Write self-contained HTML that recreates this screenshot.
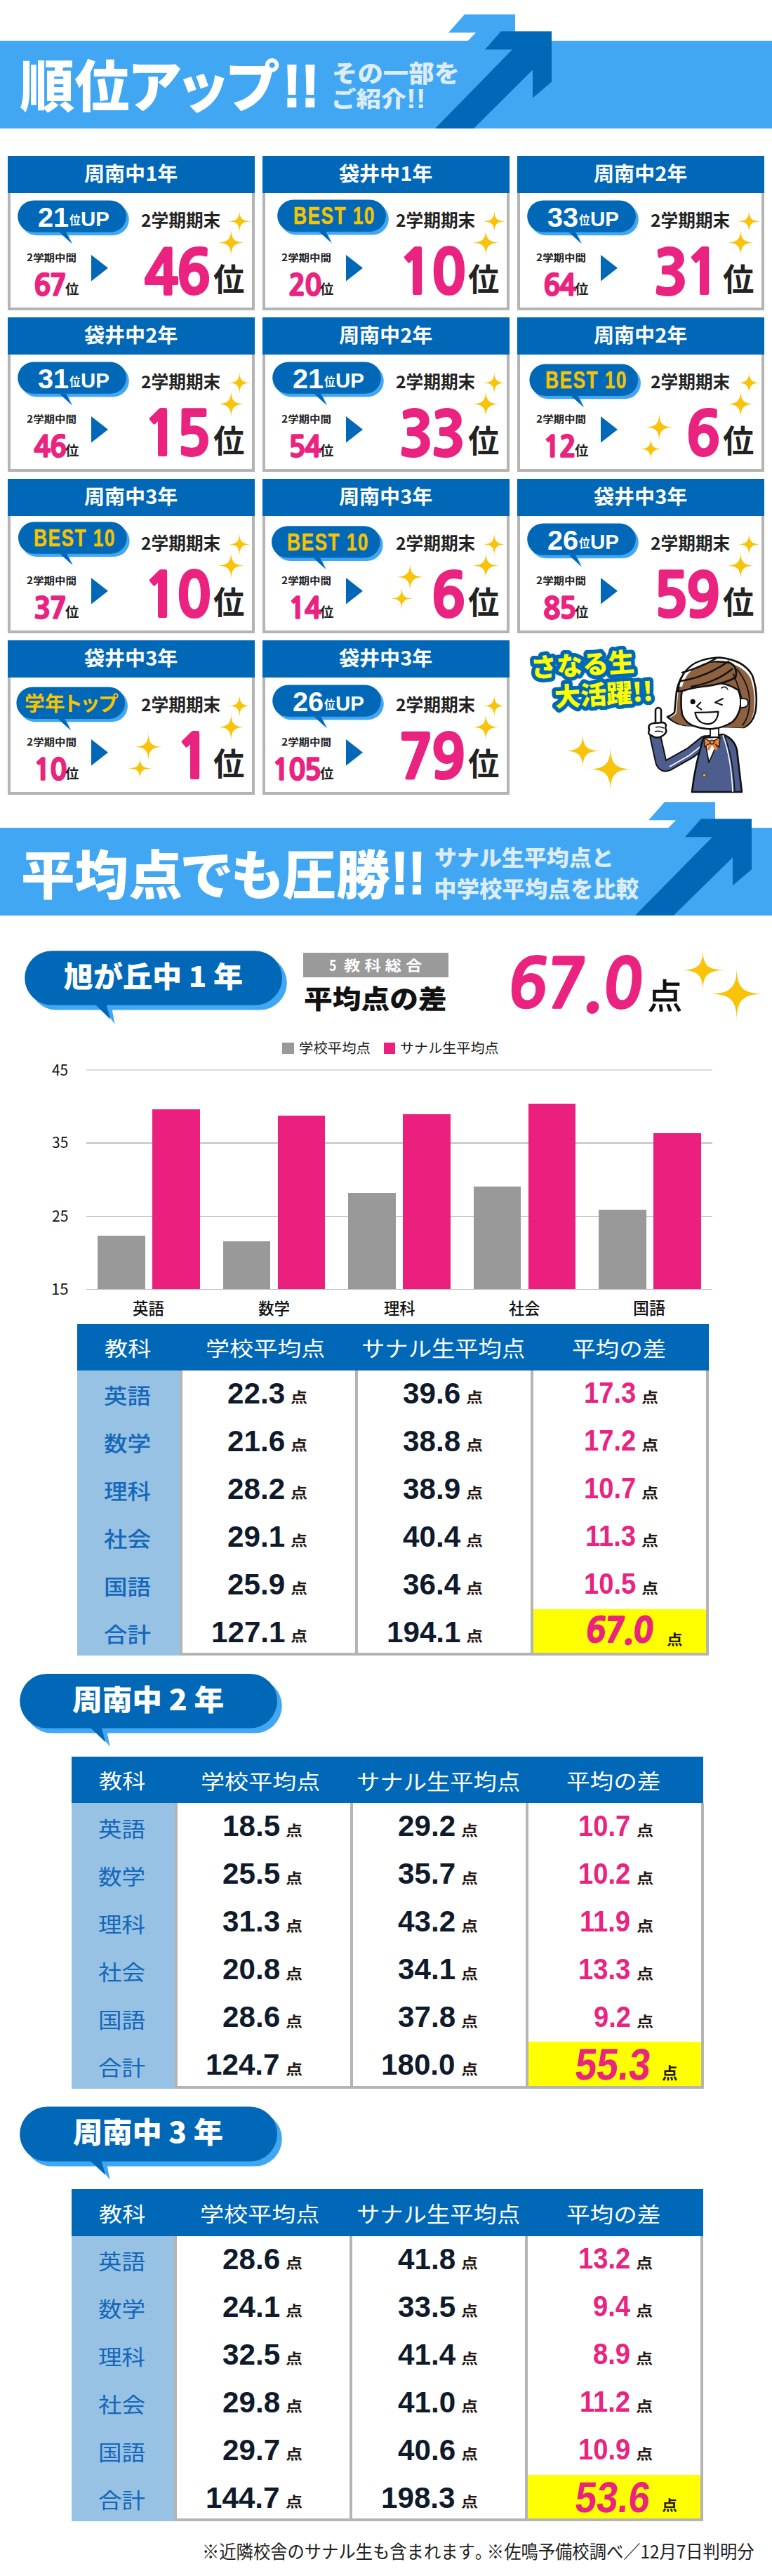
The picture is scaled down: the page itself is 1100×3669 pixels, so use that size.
<!DOCTYPE html>
<html lang="ja"><head><meta charset="utf-8"><title>順位アップ!!</title>
<style>
html,body{margin:0;padding:0;background:#fff;}
#pg{position:relative;width:1100px;height:3669px;overflow:hidden;background:#fff;}
.r{position:absolute;}
.t{position:absolute;white-space:pre;line-height:1;transform-origin:0 0;z-index:2;}
</style></head><body><div id="pg">
<div class="r" style="left:0px;top:58px;width:1100px;height:125px;background:#42a7f2;"></div><div class="t" style="left:28.12px;top:78.04px;font-family:'Noto Sans CJK JP',sans-serif;font-weight:900;font-size:79.29px;color:#fff;font-feature-settings:'palt';transform:scaleX(0.9855);">順位アップ</div><div class="t" style="left:402.89px;top:80.80px;font-family:'Liberation Sans',sans-serif;font-weight:700;font-size:84.35px;color:#fff;transform:scaleX(0.9238);-webkit-text-stroke:2px #fff;">!!</div><div class="t" style="left:472.79px;top:84.94px;font-family:'Noto Sans CJK JP',sans-serif;font-weight:900;font-size:34.53px;color:#dcecf9;transform:scaleX(1.0542);">その一部を</div><div class="t" style="left:471.78px;top:124.07px;font-family:'Noto Sans CJK JP',sans-serif;font-weight:900;font-size:30.51px;color:#dcecf9;transform:scaleX(1.1676);">ご紹介</div><div class="t" style="left:578.75px;top:122.23px;font-family:'Liberation Sans',sans-serif;font-weight:700;font-size:38.55px;color:#dcecf9;transform:scaleX(1.0808);">!!</div><div class="r" style="left:11px;top:222px;width:352px;height:220px;background:#fff;box-sizing:border-box;border:4px solid #b4b4b4;border-top:0"></div><div class="r" style="left:11px;top:222px;width:352px;height:53px;background:#0068b7;"></div><div class="t" style="left:120.42px;top:232.01px;font-family:'Noto Sans CJK JP',sans-serif;font-weight:700;font-size:28.44px;color:#fff;transform:scaleX(1.0216);">周南中1年</div><div class="t" style="left:53.71px;top:289.78px;font-family:'Liberation Sans',sans-serif;font-weight:700;font-size:39.44px;color:#fff;transform:scaleX(1.0047);">21</div><div class="t" style="left:98.74px;top:304.66px;font-family:'Noto Sans CJK JP',sans-serif;font-weight:700;font-size:16.70px;color:#fff;transform:scaleX(0.9382);">位</div><div class="t" style="left:114.83px;top:296.72px;font-family:'Liberation Sans',sans-serif;font-weight:700;font-size:29.86px;color:#fff;transform:scaleX(0.9868);">UP</div><div class="t" style="left:201.11px;top:299.68px;font-family:'Noto Sans CJK JP',sans-serif;font-weight:700;font-size:24.58px;color:#222222;transform:scaleX(1.0043);">2学期期末</div><div class="t" style="left:38.18px;top:360.44px;font-family:'Noto Sans CJK JP',sans-serif;font-weight:700;font-size:13.75px;color:#222222;transform:scaleX(1.1250);">2学期中間</div><div class="t" style="left:47.57px;top:385.86px;font-family:'NanumGothic','Liberation Sans',sans-serif;font-weight:800;font-size:41.77px;color:#e9237f;letter-spacing:-0.045em;transform:scaleX(0.9714);-webkit-text-stroke:1.3px #e9237f;">67</div><div class="t" style="left:93.31px;top:400.93px;font-family:'Noto Sans CJK JP',sans-serif;font-weight:700;font-size:19.68px;color:#222222;transform:scaleX(0.9848);">位</div><svg class="r" style="left:130.2px;top:363.3px;overflow:visible" width="24" height="38"><polygon points="0,0 24,18.8 0,37.6" fill="#0068b7"/></svg><div class="t" style="left:205.26px;top:344.67px;font-family:'NanumGothic','Liberation Sans',sans-serif;font-weight:800;font-size:86.58px;color:#e9237f;letter-spacing:-0.045em;transform:scaleX(0.9492);-webkit-text-stroke:2px #e9237f;">46</div><div class="t" style="left:304.06px;top:372.68px;font-family:'Noto Sans CJK JP',sans-serif;font-weight:700;font-size:45.21px;color:#222222;transform:scaleX(0.9805);">位</div><div class="r" style="left:374px;top:222px;width:352px;height:220px;background:#fff;box-sizing:border-box;border:4px solid #b4b4b4;border-top:0"></div><div class="r" style="left:374px;top:222px;width:352px;height:53px;background:#0068b7;"></div><div class="t" style="left:483.42px;top:232.01px;font-family:'Noto Sans CJK JP',sans-serif;font-weight:700;font-size:28.44px;color:#fff;transform:scaleX(1.0216);">袋井中1年</div><div class="t" style="left:417.55px;top:290.10px;font-family:'Liberation Sans',sans-serif;font-weight:700;font-size:34.65px;color:#f8c300;letter-spacing:0.05em;transform:scaleX(0.7647);-webkit-text-stroke:0.4px #f8c300;">BEST 10</div><div class="t" style="left:564.11px;top:299.68px;font-family:'Noto Sans CJK JP',sans-serif;font-weight:700;font-size:24.58px;color:#222222;transform:scaleX(1.0043);">2学期期末</div><div class="t" style="left:401.18px;top:360.44px;font-family:'Noto Sans CJK JP',sans-serif;font-weight:700;font-size:13.75px;color:#222222;transform:scaleX(1.1250);">2学期中間</div><div class="t" style="left:410.57px;top:385.86px;font-family:'NanumGothic','Liberation Sans',sans-serif;font-weight:800;font-size:41.77px;color:#e9237f;letter-spacing:-0.045em;transform:scaleX(0.9714);-webkit-text-stroke:1.3px #e9237f;">20</div><div class="t" style="left:456.31px;top:400.93px;font-family:'Noto Sans CJK JP',sans-serif;font-weight:700;font-size:19.68px;color:#222222;transform:scaleX(0.9848);">位</div><svg class="r" style="left:493.2px;top:363.3px;overflow:visible" width="24" height="38"><polygon points="0,0 24,18.8 0,37.6" fill="#0068b7"/></svg><div class="t" style="left:568.26px;top:344.67px;font-family:'NanumGothic','Liberation Sans',sans-serif;font-weight:800;font-size:86.58px;color:#e9237f;letter-spacing:-0.045em;transform:scaleX(0.9492);-webkit-text-stroke:2px #e9237f;">10</div><div class="t" style="left:667.06px;top:372.68px;font-family:'Noto Sans CJK JP',sans-serif;font-weight:700;font-size:45.21px;color:#222222;transform:scaleX(0.9805);">位</div><div class="r" style="left:737px;top:222px;width:352px;height:220px;background:#fff;box-sizing:border-box;border:4px solid #b4b4b4;border-top:0"></div><div class="r" style="left:737px;top:222px;width:352px;height:53px;background:#0068b7;"></div><div class="t" style="left:846.42px;top:232.01px;font-family:'Noto Sans CJK JP',sans-serif;font-weight:700;font-size:28.44px;color:#fff;transform:scaleX(1.0216);">周南中2年</div><div class="t" style="left:779.71px;top:289.78px;font-family:'Liberation Sans',sans-serif;font-weight:700;font-size:39.44px;color:#fff;transform:scaleX(1.0047);">33</div><div class="t" style="left:824.74px;top:304.66px;font-family:'Noto Sans CJK JP',sans-serif;font-weight:700;font-size:16.70px;color:#fff;transform:scaleX(0.9382);">位</div><div class="t" style="left:840.83px;top:296.72px;font-family:'Liberation Sans',sans-serif;font-weight:700;font-size:29.86px;color:#fff;transform:scaleX(0.9868);">UP</div><div class="t" style="left:927.11px;top:299.68px;font-family:'Noto Sans CJK JP',sans-serif;font-weight:700;font-size:24.58px;color:#222222;transform:scaleX(1.0043);">2学期期末</div><div class="t" style="left:764.18px;top:360.44px;font-family:'Noto Sans CJK JP',sans-serif;font-weight:700;font-size:13.75px;color:#222222;transform:scaleX(1.1250);">2学期中間</div><div class="t" style="left:773.57px;top:385.86px;font-family:'NanumGothic','Liberation Sans',sans-serif;font-weight:800;font-size:41.77px;color:#e9237f;letter-spacing:-0.045em;transform:scaleX(0.9714);-webkit-text-stroke:1.3px #e9237f;">64</div><div class="t" style="left:819.31px;top:400.93px;font-family:'Noto Sans CJK JP',sans-serif;font-weight:700;font-size:19.68px;color:#222222;transform:scaleX(0.9848);">位</div><svg class="r" style="left:856.2px;top:363.3px;overflow:visible" width="24" height="38"><polygon points="0,0 24,18.8 0,37.6" fill="#0068b7"/></svg><div class="t" style="left:931.26px;top:344.67px;font-family:'NanumGothic','Liberation Sans',sans-serif;font-weight:800;font-size:86.58px;color:#e9237f;letter-spacing:-0.045em;transform:scaleX(0.9492);-webkit-text-stroke:2px #e9237f;">31</div><div class="t" style="left:1030.06px;top:372.68px;font-family:'Noto Sans CJK JP',sans-serif;font-weight:700;font-size:45.21px;color:#222222;transform:scaleX(0.9805);">位</div><div class="r" style="left:11px;top:452px;width:352px;height:220px;background:#fff;box-sizing:border-box;border:4px solid #b4b4b4;border-top:0"></div><div class="r" style="left:11px;top:452px;width:352px;height:53px;background:#0068b7;"></div><div class="t" style="left:120.42px;top:462.01px;font-family:'Noto Sans CJK JP',sans-serif;font-weight:700;font-size:28.44px;color:#fff;transform:scaleX(1.0216);">袋井中2年</div><div class="t" style="left:53.71px;top:519.78px;font-family:'Liberation Sans',sans-serif;font-weight:700;font-size:39.44px;color:#fff;transform:scaleX(1.0047);">31</div><div class="t" style="left:98.74px;top:534.66px;font-family:'Noto Sans CJK JP',sans-serif;font-weight:700;font-size:16.70px;color:#fff;transform:scaleX(0.9382);">位</div><div class="t" style="left:114.83px;top:526.72px;font-family:'Liberation Sans',sans-serif;font-weight:700;font-size:29.86px;color:#fff;transform:scaleX(0.9868);">UP</div><div class="t" style="left:201.11px;top:529.68px;font-family:'Noto Sans CJK JP',sans-serif;font-weight:700;font-size:24.58px;color:#222222;transform:scaleX(1.0043);">2学期期末</div><div class="t" style="left:38.18px;top:590.44px;font-family:'Noto Sans CJK JP',sans-serif;font-weight:700;font-size:13.75px;color:#222222;transform:scaleX(1.1250);">2学期中間</div><div class="t" style="left:47.57px;top:615.86px;font-family:'NanumGothic','Liberation Sans',sans-serif;font-weight:800;font-size:41.77px;color:#e9237f;letter-spacing:-0.045em;transform:scaleX(0.9714);-webkit-text-stroke:1.3px #e9237f;">46</div><div class="t" style="left:93.31px;top:630.93px;font-family:'Noto Sans CJK JP',sans-serif;font-weight:700;font-size:19.68px;color:#222222;transform:scaleX(0.9848);">位</div><svg class="r" style="left:130.2px;top:593.3px;overflow:visible" width="24" height="38"><polygon points="0,0 24,18.8 0,37.6" fill="#0068b7"/></svg><div class="t" style="left:205.26px;top:574.67px;font-family:'NanumGothic','Liberation Sans',sans-serif;font-weight:800;font-size:86.58px;color:#e9237f;letter-spacing:-0.045em;transform:scaleX(0.9492);-webkit-text-stroke:2px #e9237f;">15</div><div class="t" style="left:304.06px;top:602.68px;font-family:'Noto Sans CJK JP',sans-serif;font-weight:700;font-size:45.21px;color:#222222;transform:scaleX(0.9805);">位</div><div class="r" style="left:374px;top:452px;width:352px;height:220px;background:#fff;box-sizing:border-box;border:4px solid #b4b4b4;border-top:0"></div><div class="r" style="left:374px;top:452px;width:352px;height:53px;background:#0068b7;"></div><div class="t" style="left:483.42px;top:462.01px;font-family:'Noto Sans CJK JP',sans-serif;font-weight:700;font-size:28.44px;color:#fff;transform:scaleX(1.0216);">周南中2年</div><div class="t" style="left:416.71px;top:519.78px;font-family:'Liberation Sans',sans-serif;font-weight:700;font-size:39.44px;color:#fff;transform:scaleX(1.0047);">21</div><div class="t" style="left:461.74px;top:534.66px;font-family:'Noto Sans CJK JP',sans-serif;font-weight:700;font-size:16.70px;color:#fff;transform:scaleX(0.9382);">位</div><div class="t" style="left:477.83px;top:526.72px;font-family:'Liberation Sans',sans-serif;font-weight:700;font-size:29.86px;color:#fff;transform:scaleX(0.9868);">UP</div><div class="t" style="left:564.11px;top:529.68px;font-family:'Noto Sans CJK JP',sans-serif;font-weight:700;font-size:24.58px;color:#222222;transform:scaleX(1.0043);">2学期期末</div><div class="t" style="left:401.18px;top:590.44px;font-family:'Noto Sans CJK JP',sans-serif;font-weight:700;font-size:13.75px;color:#222222;transform:scaleX(1.1250);">2学期中間</div><div class="t" style="left:410.57px;top:615.86px;font-family:'NanumGothic','Liberation Sans',sans-serif;font-weight:800;font-size:41.77px;color:#e9237f;letter-spacing:-0.045em;transform:scaleX(0.9714);-webkit-text-stroke:1.3px #e9237f;">54</div><div class="t" style="left:456.31px;top:630.93px;font-family:'Noto Sans CJK JP',sans-serif;font-weight:700;font-size:19.68px;color:#222222;transform:scaleX(0.9848);">位</div><svg class="r" style="left:493.2px;top:593.3px;overflow:visible" width="24" height="38"><polygon points="0,0 24,18.8 0,37.6" fill="#0068b7"/></svg><div class="t" style="left:568.26px;top:574.67px;font-family:'NanumGothic','Liberation Sans',sans-serif;font-weight:800;font-size:86.58px;color:#e9237f;letter-spacing:-0.045em;transform:scaleX(0.9492);-webkit-text-stroke:2px #e9237f;">33</div><div class="t" style="left:667.06px;top:602.68px;font-family:'Noto Sans CJK JP',sans-serif;font-weight:700;font-size:45.21px;color:#222222;transform:scaleX(0.9805);">位</div><div class="r" style="left:737px;top:452px;width:352px;height:220px;background:#fff;box-sizing:border-box;border:4px solid #b4b4b4;border-top:0"></div><div class="r" style="left:737px;top:452px;width:352px;height:53px;background:#0068b7;"></div><div class="t" style="left:846.42px;top:462.01px;font-family:'Noto Sans CJK JP',sans-serif;font-weight:700;font-size:28.44px;color:#fff;transform:scaleX(1.0216);">周南中2年</div><div class="t" style="left:776.75px;top:524.00px;font-family:'Liberation Sans',sans-serif;font-weight:700;font-size:34.65px;color:#f8c300;letter-spacing:0.05em;transform:scaleX(0.7647);-webkit-text-stroke:0.4px #f8c300;">BEST 10</div><div class="t" style="left:927.11px;top:529.68px;font-family:'Noto Sans CJK JP',sans-serif;font-weight:700;font-size:24.58px;color:#222222;transform:scaleX(1.0043);">2学期期末</div><div class="t" style="left:764.18px;top:590.44px;font-family:'Noto Sans CJK JP',sans-serif;font-weight:700;font-size:13.75px;color:#222222;transform:scaleX(1.1250);">2学期中間</div><div class="t" style="left:773.57px;top:615.86px;font-family:'NanumGothic','Liberation Sans',sans-serif;font-weight:800;font-size:41.77px;color:#e9237f;letter-spacing:-0.045em;transform:scaleX(0.9714);-webkit-text-stroke:1.3px #e9237f;">12</div><div class="t" style="left:819.31px;top:630.93px;font-family:'Noto Sans CJK JP',sans-serif;font-weight:700;font-size:19.68px;color:#222222;transform:scaleX(0.9848);">位</div><svg class="r" style="left:856.2px;top:593.3px;overflow:visible" width="24" height="38"><polygon points="0,0 24,18.8 0,37.6" fill="#0068b7"/></svg><div class="t" style="left:977.36px;top:574.67px;font-family:'NanumGothic','Liberation Sans',sans-serif;font-weight:800;font-size:86.58px;color:#e9237f;letter-spacing:-0.045em;transform:scaleX(0.9492);-webkit-text-stroke:2px #e9237f;">6</div><div class="t" style="left:1030.06px;top:602.68px;font-family:'Noto Sans CJK JP',sans-serif;font-weight:700;font-size:45.21px;color:#222222;transform:scaleX(0.9805);">位</div><div class="r" style="left:11px;top:682px;width:352px;height:220px;background:#fff;box-sizing:border-box;border:4px solid #b4b4b4;border-top:0"></div><div class="r" style="left:11px;top:682px;width:352px;height:53px;background:#0068b7;"></div><div class="t" style="left:120.42px;top:692.01px;font-family:'Noto Sans CJK JP',sans-serif;font-weight:700;font-size:28.44px;color:#fff;transform:scaleX(1.0216);">周南中3年</div><div class="t" style="left:48.35px;top:748.80px;font-family:'Liberation Sans',sans-serif;font-weight:700;font-size:34.65px;color:#f8c300;letter-spacing:0.05em;transform:scaleX(0.7647);-webkit-text-stroke:0.4px #f8c300;">BEST 10</div><div class="t" style="left:201.11px;top:759.68px;font-family:'Noto Sans CJK JP',sans-serif;font-weight:700;font-size:24.58px;color:#222222;transform:scaleX(1.0043);">2学期期末</div><div class="t" style="left:38.18px;top:820.44px;font-family:'Noto Sans CJK JP',sans-serif;font-weight:700;font-size:13.75px;color:#222222;transform:scaleX(1.1250);">2学期中間</div><div class="t" style="left:47.57px;top:845.86px;font-family:'NanumGothic','Liberation Sans',sans-serif;font-weight:800;font-size:41.77px;color:#e9237f;letter-spacing:-0.045em;transform:scaleX(0.9714);-webkit-text-stroke:1.3px #e9237f;">37</div><div class="t" style="left:93.31px;top:860.93px;font-family:'Noto Sans CJK JP',sans-serif;font-weight:700;font-size:19.68px;color:#222222;transform:scaleX(0.9848);">位</div><svg class="r" style="left:130.2px;top:823.3px;overflow:visible" width="24" height="38"><polygon points="0,0 24,18.8 0,37.6" fill="#0068b7"/></svg><div class="t" style="left:205.26px;top:804.67px;font-family:'NanumGothic','Liberation Sans',sans-serif;font-weight:800;font-size:86.58px;color:#e9237f;letter-spacing:-0.045em;transform:scaleX(0.9492);-webkit-text-stroke:2px #e9237f;">10</div><div class="t" style="left:304.06px;top:832.68px;font-family:'Noto Sans CJK JP',sans-serif;font-weight:700;font-size:45.21px;color:#222222;transform:scaleX(0.9805);">位</div><div class="r" style="left:374px;top:682px;width:352px;height:220px;background:#fff;box-sizing:border-box;border:4px solid #b4b4b4;border-top:0"></div><div class="r" style="left:374px;top:682px;width:352px;height:53px;background:#0068b7;"></div><div class="t" style="left:483.42px;top:692.01px;font-family:'Noto Sans CJK JP',sans-serif;font-weight:700;font-size:28.44px;color:#fff;transform:scaleX(1.0216);">周南中3年</div><div class="t" style="left:409.35px;top:754.70px;font-family:'Liberation Sans',sans-serif;font-weight:700;font-size:34.65px;color:#f8c300;letter-spacing:0.05em;transform:scaleX(0.7647);-webkit-text-stroke:0.4px #f8c300;">BEST 10</div><div class="t" style="left:564.11px;top:759.68px;font-family:'Noto Sans CJK JP',sans-serif;font-weight:700;font-size:24.58px;color:#222222;transform:scaleX(1.0043);">2学期期末</div><div class="t" style="left:401.18px;top:820.44px;font-family:'Noto Sans CJK JP',sans-serif;font-weight:700;font-size:13.75px;color:#222222;transform:scaleX(1.1250);">2学期中間</div><div class="t" style="left:410.57px;top:845.86px;font-family:'NanumGothic','Liberation Sans',sans-serif;font-weight:800;font-size:41.77px;color:#e9237f;letter-spacing:-0.045em;transform:scaleX(0.9714);-webkit-text-stroke:1.3px #e9237f;">14</div><div class="t" style="left:456.31px;top:860.93px;font-family:'Noto Sans CJK JP',sans-serif;font-weight:700;font-size:19.68px;color:#222222;transform:scaleX(0.9848);">位</div><svg class="r" style="left:493.2px;top:823.3px;overflow:visible" width="24" height="38"><polygon points="0,0 24,18.8 0,37.6" fill="#0068b7"/></svg><div class="t" style="left:614.36px;top:804.67px;font-family:'NanumGothic','Liberation Sans',sans-serif;font-weight:800;font-size:86.58px;color:#e9237f;letter-spacing:-0.045em;transform:scaleX(0.9492);-webkit-text-stroke:2px #e9237f;">6</div><div class="t" style="left:667.06px;top:832.68px;font-family:'Noto Sans CJK JP',sans-serif;font-weight:700;font-size:45.21px;color:#222222;transform:scaleX(0.9805);">位</div><div class="r" style="left:737px;top:682px;width:352px;height:220px;background:#fff;box-sizing:border-box;border:4px solid #b4b4b4;border-top:0"></div><div class="r" style="left:737px;top:682px;width:352px;height:53px;background:#0068b7;"></div><div class="t" style="left:846.42px;top:692.01px;font-family:'Noto Sans CJK JP',sans-serif;font-weight:700;font-size:28.44px;color:#fff;transform:scaleX(1.0216);">袋井中3年</div><div class="t" style="left:779.71px;top:749.78px;font-family:'Liberation Sans',sans-serif;font-weight:700;font-size:39.44px;color:#fff;transform:scaleX(1.0047);">26</div><div class="t" style="left:824.74px;top:764.66px;font-family:'Noto Sans CJK JP',sans-serif;font-weight:700;font-size:16.70px;color:#fff;transform:scaleX(0.9382);">位</div><div class="t" style="left:840.83px;top:756.72px;font-family:'Liberation Sans',sans-serif;font-weight:700;font-size:29.86px;color:#fff;transform:scaleX(0.9868);">UP</div><div class="t" style="left:927.11px;top:759.68px;font-family:'Noto Sans CJK JP',sans-serif;font-weight:700;font-size:24.58px;color:#222222;transform:scaleX(1.0043);">2学期期末</div><div class="t" style="left:764.18px;top:820.44px;font-family:'Noto Sans CJK JP',sans-serif;font-weight:700;font-size:13.75px;color:#222222;transform:scaleX(1.1250);">2学期中間</div><div class="t" style="left:773.57px;top:845.86px;font-family:'NanumGothic','Liberation Sans',sans-serif;font-weight:800;font-size:41.77px;color:#e9237f;letter-spacing:-0.045em;transform:scaleX(0.9714);-webkit-text-stroke:1.3px #e9237f;">85</div><div class="t" style="left:819.31px;top:860.93px;font-family:'Noto Sans CJK JP',sans-serif;font-weight:700;font-size:19.68px;color:#222222;transform:scaleX(0.9848);">位</div><svg class="r" style="left:856.2px;top:823.3px;overflow:visible" width="24" height="38"><polygon points="0,0 24,18.8 0,37.6" fill="#0068b7"/></svg><div class="t" style="left:931.26px;top:804.67px;font-family:'NanumGothic','Liberation Sans',sans-serif;font-weight:800;font-size:86.58px;color:#e9237f;letter-spacing:-0.045em;transform:scaleX(0.9492);-webkit-text-stroke:2px #e9237f;">59</div><div class="t" style="left:1030.06px;top:832.68px;font-family:'Noto Sans CJK JP',sans-serif;font-weight:700;font-size:45.21px;color:#222222;transform:scaleX(0.9805);">位</div><div class="r" style="left:11px;top:912px;width:352px;height:220px;background:#fff;box-sizing:border-box;border:4px solid #b4b4b4;border-top:0"></div><div class="r" style="left:11px;top:912px;width:352px;height:53px;background:#0068b7;"></div><div class="t" style="left:120.42px;top:922.01px;font-family:'Noto Sans CJK JP',sans-serif;font-weight:700;font-size:28.44px;color:#fff;transform:scaleX(1.0216);">袋井中3年</div><div class="t" style="left:34.66px;top:986.26px;font-family:'Noto Sans CJK JP',sans-serif;font-weight:700;font-size:29.17px;color:#f8c300;font-feature-settings:'palt';transform:scaleX(0.9852);">学年トップ</div><div class="t" style="left:201.11px;top:989.68px;font-family:'Noto Sans CJK JP',sans-serif;font-weight:700;font-size:24.58px;color:#222222;transform:scaleX(1.0043);">2学期期末</div><div class="t" style="left:38.18px;top:1050.44px;font-family:'Noto Sans CJK JP',sans-serif;font-weight:700;font-size:13.75px;color:#222222;transform:scaleX(1.1250);">2学期中間</div><div class="t" style="left:47.57px;top:1075.86px;font-family:'NanumGothic','Liberation Sans',sans-serif;font-weight:800;font-size:41.77px;color:#e9237f;letter-spacing:-0.045em;transform:scaleX(0.9714);-webkit-text-stroke:1.3px #e9237f;">10</div><div class="t" style="left:93.31px;top:1090.93px;font-family:'Noto Sans CJK JP',sans-serif;font-weight:700;font-size:19.68px;color:#222222;transform:scaleX(0.9848);">位</div><svg class="r" style="left:130.2px;top:1053.3px;overflow:visible" width="24" height="38"><polygon points="0,0 24,18.8 0,37.6" fill="#0068b7"/></svg><div class="t" style="left:251.36px;top:1034.67px;font-family:'NanumGothic','Liberation Sans',sans-serif;font-weight:800;font-size:86.58px;color:#e9237f;letter-spacing:-0.045em;transform:scaleX(0.9492);-webkit-text-stroke:2px #e9237f;">1</div><div class="t" style="left:304.06px;top:1062.68px;font-family:'Noto Sans CJK JP',sans-serif;font-weight:700;font-size:45.21px;color:#222222;transform:scaleX(0.9805);">位</div><div class="r" style="left:374px;top:912px;width:352px;height:220px;background:#fff;box-sizing:border-box;border:4px solid #b4b4b4;border-top:0"></div><div class="r" style="left:374px;top:912px;width:352px;height:53px;background:#0068b7;"></div><div class="t" style="left:483.42px;top:922.01px;font-family:'Noto Sans CJK JP',sans-serif;font-weight:700;font-size:28.44px;color:#fff;transform:scaleX(1.0216);">袋井中3年</div><div class="t" style="left:416.71px;top:979.78px;font-family:'Liberation Sans',sans-serif;font-weight:700;font-size:39.44px;color:#fff;transform:scaleX(1.0047);">26</div><div class="t" style="left:461.74px;top:994.66px;font-family:'Noto Sans CJK JP',sans-serif;font-weight:700;font-size:16.70px;color:#fff;transform:scaleX(0.9382);">位</div><div class="t" style="left:477.83px;top:986.72px;font-family:'Liberation Sans',sans-serif;font-weight:700;font-size:29.86px;color:#fff;transform:scaleX(0.9868);">UP</div><div class="t" style="left:564.11px;top:989.68px;font-family:'Noto Sans CJK JP',sans-serif;font-weight:700;font-size:24.58px;color:#222222;transform:scaleX(1.0043);">2学期期末</div><div class="t" style="left:401.18px;top:1050.44px;font-family:'Noto Sans CJK JP',sans-serif;font-weight:700;font-size:13.75px;color:#222222;transform:scaleX(1.1250);">2学期中間</div><div class="t" style="left:387.80px;top:1075.86px;font-family:'NanumGothic','Liberation Sans',sans-serif;font-weight:800;font-size:41.77px;color:#e9237f;letter-spacing:-0.045em;transform:scaleX(0.9714);-webkit-text-stroke:1.3px #e9237f;">105</div><div class="t" style="left:456.31px;top:1090.93px;font-family:'Noto Sans CJK JP',sans-serif;font-weight:700;font-size:19.68px;color:#222222;transform:scaleX(0.9848);">位</div><svg class="r" style="left:493.2px;top:1053.3px;overflow:visible" width="24" height="38"><polygon points="0,0 24,18.8 0,37.6" fill="#0068b7"/></svg><div class="t" style="left:568.26px;top:1034.67px;font-family:'NanumGothic','Liberation Sans',sans-serif;font-weight:800;font-size:86.58px;color:#e9237f;letter-spacing:-0.045em;transform:scaleX(0.9492);-webkit-text-stroke:2px #e9237f;">79</div><div class="t" style="left:667.06px;top:1062.68px;font-family:'Noto Sans CJK JP',sans-serif;font-weight:700;font-size:45.21px;color:#222222;transform:scaleX(0.9805);">位</div><div class="r" style="left:0px;top:1179px;width:1100px;height:124.7px;background:#42a7f2;"></div><div class="t" style="left:29.64px;top:1203.64px;font-family:'Noto Sans CJK JP',sans-serif;font-weight:900;font-size:75.10px;color:#fff;font-feature-settings:'palt';transform:scaleX(1.0199);">平均点でも圧勝</div><div class="t" style="left:557.21px;top:1201.02px;font-family:'Liberation Sans',sans-serif;font-weight:700;font-size:85.51px;color:#fff;transform:scaleX(0.8698);-webkit-text-stroke:2px #fff;">!!</div><div class="t" style="left:618.90px;top:1204.98px;font-family:'Noto Sans CJK JP',sans-serif;font-weight:900;font-size:30.31px;color:#dcecf9;transform:scaleX(1.0547);">サナル生平均点と</div><div class="t" style="left:617.90px;top:1247.66px;font-family:'Noto Sans CJK JP',sans-serif;font-weight:900;font-size:31.98px;color:#dcecf9;transform:scaleX(1.0160);">中学校平均点を比較</div><div class="t" style="left:91.38px;top:1368.56px;font-family:'Noto Sans CJK JP',sans-serif;font-weight:900;font-size:40.81px;color:#fff;transform:scaleX(1.0299);">旭が丘中 1 年</div><div class="r" style="left:432.1px;top:1357.1px;width:207.2px;height:35.1px;background:#9a9a9a;"></div><div class="t" style="left:469.46px;top:1363.13px;font-family:'Noto Sans CJK JP',sans-serif;font-weight:700;font-size:21.78px;color:#fff;transform:scaleX(0.8192);">5</div><div class="t" style="left:490.04px;top:1364.25px;font-family:'Noto Sans CJK JP',sans-serif;font-weight:700;font-size:20.73px;color:#fff;letter-spacing:0.27em;transform:scaleX(1.1185);">教科総合</div><div class="t" style="left:433.17px;top:1403.39px;font-family:'Noto Sans CJK JP',sans-serif;font-weight:900;font-size:37.29px;color:#111;transform:scaleX(1.0934);">平均点の差</div><div class="t" style="left:724.32px;top:1354.24px;font-family:'NanumGothic','Liberation Sans',sans-serif;font-weight:800;font-size:96.55px;color:#e9237f;letter-spacing:-0.03em;transform-origin:0 48.76px;transform:scaleX(0.9802) skewX(-6deg);-webkit-text-stroke:0.8px #e9237f;">67.0</div><div class="t" style="left:921.77px;top:1390.83px;font-family:'Noto Sans CJK JP',sans-serif;font-weight:500;font-size:49.57px;color:#111;transform:scaleX(1.0239);">点</div><div class="r" style="left:122.5px;top:1522.9px;width:892px;height:2px;background:#dcdcdc;"></div><div class="r" style="left:122.5px;top:1627.4px;width:892px;height:1.2px;background:#c0c0c0;"></div><div class="r" style="left:122.5px;top:1731.6px;width:892px;height:1.2px;background:#c0c0c0;"></div><div class="r" style="left:122.5px;top:1835.7px;width:892px;height:1.2px;background:#c0c0c0;"></div><div class="t" style="left:74.48px;top:1511.77px;font-family:'Noto Sans CJK JP',sans-serif;font-weight:400;font-size:21.53px;color:#111;transform:scaleX(0.9648);">45</div><div class="t" style="left:74.27px;top:1616.45px;font-family:'Noto Sans CJK JP',sans-serif;font-weight:400;font-size:20.95px;color:#111;transform:scaleX(1.0012);">35</div><div class="t" style="left:74.05px;top:1720.58px;font-family:'Noto Sans CJK JP',sans-serif;font-weight:400;font-size:20.95px;color:#111;transform:scaleX(1.0110);">25</div><div class="t" style="left:72.90px;top:1824.16px;font-family:'Noto Sans CJK JP',sans-serif;font-weight:400;font-size:21.53px;color:#111;transform:scaleX(1.0344);">15</div><div class="r" style="left:139.3px;top:1760.3px;width:67.5px;height:76.0px;background:#999999;"></div><div class="r" style="left:217.0px;top:1580.1px;width:67.6px;height:256.2px;background:#ea1f7e;"></div><div class="t" style="left:189.30px;top:1852.29px;font-family:'Noto Sans CJK JP',sans-serif;font-weight:500;font-size:22.66px;color:#111;transform:scaleX(0.9901);">英語</div><div class="r" style="left:317.8px;top:1767.6px;width:67.5px;height:68.7px;background:#999999;"></div><div class="r" style="left:395.5px;top:1588.5px;width:67.6px;height:247.8px;background:#ea1f7e;"></div><div class="t" style="left:368.02px;top:1852.29px;font-family:'Noto Sans CJK JP',sans-serif;font-weight:500;font-size:22.66px;color:#111;transform:scaleX(0.9953);">数学</div><div class="r" style="left:496.3px;top:1698.8px;width:67.5px;height:137.5px;background:#999999;"></div><div class="r" style="left:574.0px;top:1587.4px;width:67.6px;height:248.9px;background:#ea1f7e;"></div><div class="t" style="left:546.53px;top:1852.29px;font-family:'Noto Sans CJK JP',sans-serif;font-weight:500;font-size:22.66px;color:#111;transform:scaleX(0.9850);">理科</div><div class="r" style="left:674.8px;top:1689.5px;width:67.5px;height:146.8px;background:#999999;"></div><div class="r" style="left:752.5px;top:1571.8px;width:67.6px;height:264.5px;background:#ea1f7e;"></div><div class="t" style="left:725.26px;top:1852.29px;font-family:'Noto Sans CJK JP',sans-serif;font-weight:500;font-size:22.66px;color:#111;transform:scaleX(0.9799);">社会</div><div class="r" style="left:853.3px;top:1722.8px;width:67.5px;height:113.5px;background:#999999;"></div><div class="r" style="left:931.0px;top:1613.5px;width:67.6px;height:222.8px;background:#ea1f7e;"></div><div class="t" style="left:902.37px;top:1851.26px;font-family:'Noto Sans CJK JP',sans-serif;font-weight:500;font-size:23.67px;color:#111;transform:scaleX(0.9680);">国語</div><div class="r" style="left:402.3px;top:1485px;width:16.6px;height:15.8px;background:#999999;"></div><div class="t" style="left:426.08px;top:1481.62px;font-family:'Noto Sans CJK JP',sans-serif;font-weight:400;font-size:19.79px;color:#222;transform:scaleX(1.0304);">学校平均点</div><div class="r" style="left:546.5px;top:1484.8px;width:16.8px;height:15.8px;background:#ea1f7e;"></div><div class="t" style="left:570.09px;top:1482.32px;font-family:'Noto Sans CJK JP',sans-serif;font-weight:400;font-size:19.79px;color:#222;transform:scaleX(1.0152);">サナル生平均点</div><div class="r" style="left:109.6px;top:1885.5px;width:900px;height:66.2px;background:#0068b7;"></div><div class="t" style="left:148.74px;top:1904.68px;font-family:'Noto Sans CJK JP',sans-serif;font-weight:400;font-size:29.04px;color:#fff;transform:scaleX(1.1412);">教科</div><div class="t" style="left:292.95px;top:1905.27px;font-family:'Noto Sans CJK JP',sans-serif;font-weight:400;font-size:29.15px;color:#fff;transform:scaleX(1.1695);">学校平均点</div><div class="t" style="left:515.17px;top:1903.88px;font-family:'Noto Sans CJK JP',sans-serif;font-weight:400;font-size:30.21px;color:#fff;transform:scaleX(1.1031);">サナル生平均点</div><div class="t" style="left:814.52px;top:1904.62px;font-family:'Noto Sans CJK JP',sans-serif;font-weight:400;font-size:29.79px;color:#fff;transform:scaleX(1.1277);">平均の差</div><div class="r" style="left:109.6px;top:1951.7px;width:146.4px;height:406.5px;background:#98c2e4;"></div><div class="r" style="left:256.0px;top:1951.7px;width:250px;height:406.5px;background:#fff;box-sizing:border-box;border-left:4px solid #b4b4b4;border-bottom:4px solid #b4b4b4;"></div><div class="r" style="left:506.0px;top:1951.7px;width:250px;height:406.5px;background:#fff;box-sizing:border-box;border-left:4px solid #b4b4b4;border-bottom:4px solid #b4b4b4;"></div><div class="r" style="left:756.0px;top:1951.7px;width:254px;height:406.5px;background:#fff;box-sizing:border-box;border-left:4px solid #b4b4b4;border-bottom:4px solid #b4b4b4;border-right:4px solid #b4b4b4"></div><div class="r" style="left:760.0px;top:2291.7px;width:246px;height:62.5px;background:#ffff00;"></div><div class="t" style="left:147.86px;top:1972.01px;font-family:'Noto Sans CJK JP',sans-serif;font-weight:500;font-size:29.89px;color:#1467b9;transform:scaleX(1.1232);">英語</div><div class="t" style="left:324.13px;top:1963.68px;font-family:'Liberation Sans',sans-serif;font-weight:700;font-size:42.11px;color:#0f1a2b;transform:scaleX(1.0016);">22.3</div><div class="t" style="left:414.48px;top:1979.47px;font-family:'Noto Sans CJK JP',sans-serif;font-weight:700;font-size:20.42px;color:#231815;transform:scaleX(1.1826);">点</div><div class="t" style="left:574.13px;top:1963.68px;font-family:'Liberation Sans',sans-serif;font-weight:700;font-size:42.11px;color:#0f1a2b;transform:scaleX(1.0016);">39.6</div><div class="t" style="left:664.48px;top:1979.47px;font-family:'Noto Sans CJK JP',sans-serif;font-weight:700;font-size:20.42px;color:#231815;transform:scaleX(1.1826);">点</div><div class="t" style="left:831.71px;top:1963.20px;font-family:'Liberation Sans',sans-serif;font-weight:700;font-size:41.97px;color:#e9237f;transform:scaleX(0.9079);">17.3</div><div class="t" style="left:914.07px;top:1979.07px;font-family:'Noto Sans CJK JP',sans-serif;font-weight:700;font-size:20.42px;color:#231815;transform:scaleX(1.1878);">点</div><div class="t" style="left:147.86px;top:2040.01px;font-family:'Noto Sans CJK JP',sans-serif;font-weight:500;font-size:29.89px;color:#1467b9;transform:scaleX(1.1232);">数学</div><div class="t" style="left:324.13px;top:2031.68px;font-family:'Liberation Sans',sans-serif;font-weight:700;font-size:42.11px;color:#0f1a2b;transform:scaleX(1.0016);">21.6</div><div class="t" style="left:414.48px;top:2047.47px;font-family:'Noto Sans CJK JP',sans-serif;font-weight:700;font-size:20.42px;color:#231815;transform:scaleX(1.1826);">点</div><div class="t" style="left:574.13px;top:2031.68px;font-family:'Liberation Sans',sans-serif;font-weight:700;font-size:42.11px;color:#0f1a2b;transform:scaleX(1.0016);">38.8</div><div class="t" style="left:664.48px;top:2047.47px;font-family:'Noto Sans CJK JP',sans-serif;font-weight:700;font-size:20.42px;color:#231815;transform:scaleX(1.1826);">点</div><div class="t" style="left:831.71px;top:2031.20px;font-family:'Liberation Sans',sans-serif;font-weight:700;font-size:41.97px;color:#e9237f;transform:scaleX(0.9079);">17.2</div><div class="t" style="left:914.07px;top:2047.07px;font-family:'Noto Sans CJK JP',sans-serif;font-weight:700;font-size:20.42px;color:#231815;transform:scaleX(1.1878);">点</div><div class="t" style="left:147.86px;top:2108.01px;font-family:'Noto Sans CJK JP',sans-serif;font-weight:500;font-size:29.89px;color:#1467b9;transform:scaleX(1.1232);">理科</div><div class="t" style="left:324.13px;top:2099.68px;font-family:'Liberation Sans',sans-serif;font-weight:700;font-size:42.11px;color:#0f1a2b;transform:scaleX(1.0016);">28.2</div><div class="t" style="left:414.48px;top:2115.47px;font-family:'Noto Sans CJK JP',sans-serif;font-weight:700;font-size:20.42px;color:#231815;transform:scaleX(1.1826);">点</div><div class="t" style="left:574.13px;top:2099.68px;font-family:'Liberation Sans',sans-serif;font-weight:700;font-size:42.11px;color:#0f1a2b;transform:scaleX(1.0016);">38.9</div><div class="t" style="left:664.48px;top:2115.47px;font-family:'Noto Sans CJK JP',sans-serif;font-weight:700;font-size:20.42px;color:#231815;transform:scaleX(1.1826);">点</div><div class="t" style="left:831.71px;top:2099.20px;font-family:'Liberation Sans',sans-serif;font-weight:700;font-size:41.97px;color:#e9237f;transform:scaleX(0.9079);">10.7</div><div class="t" style="left:914.07px;top:2115.07px;font-family:'Noto Sans CJK JP',sans-serif;font-weight:700;font-size:20.42px;color:#231815;transform:scaleX(1.1878);">点</div><div class="t" style="left:147.86px;top:2176.01px;font-family:'Noto Sans CJK JP',sans-serif;font-weight:500;font-size:29.89px;color:#1467b9;transform:scaleX(1.1232);">社会</div><div class="t" style="left:324.13px;top:2167.68px;font-family:'Liberation Sans',sans-serif;font-weight:700;font-size:42.11px;color:#0f1a2b;transform:scaleX(1.0016);">29.1</div><div class="t" style="left:414.48px;top:2183.47px;font-family:'Noto Sans CJK JP',sans-serif;font-weight:700;font-size:20.42px;color:#231815;transform:scaleX(1.1826);">点</div><div class="t" style="left:574.13px;top:2167.68px;font-family:'Liberation Sans',sans-serif;font-weight:700;font-size:42.11px;color:#0f1a2b;transform:scaleX(1.0016);">40.4</div><div class="t" style="left:664.48px;top:2183.47px;font-family:'Noto Sans CJK JP',sans-serif;font-weight:700;font-size:20.42px;color:#231815;transform:scaleX(1.1826);">点</div><div class="t" style="left:833.82px;top:2167.20px;font-family:'Liberation Sans',sans-serif;font-weight:700;font-size:41.97px;color:#e9237f;transform:scaleX(0.9079);">11.3</div><div class="t" style="left:914.07px;top:2183.07px;font-family:'Noto Sans CJK JP',sans-serif;font-weight:700;font-size:20.42px;color:#231815;transform:scaleX(1.1878);">点</div><div class="t" style="left:147.86px;top:2244.01px;font-family:'Noto Sans CJK JP',sans-serif;font-weight:500;font-size:29.89px;color:#1467b9;transform:scaleX(1.1232);">国語</div><div class="t" style="left:324.13px;top:2235.68px;font-family:'Liberation Sans',sans-serif;font-weight:700;font-size:42.11px;color:#0f1a2b;transform:scaleX(1.0016);">25.9</div><div class="t" style="left:414.48px;top:2251.47px;font-family:'Noto Sans CJK JP',sans-serif;font-weight:700;font-size:20.42px;color:#231815;transform:scaleX(1.1826);">点</div><div class="t" style="left:574.13px;top:2235.68px;font-family:'Liberation Sans',sans-serif;font-weight:700;font-size:42.11px;color:#0f1a2b;transform:scaleX(1.0016);">36.4</div><div class="t" style="left:664.48px;top:2251.47px;font-family:'Noto Sans CJK JP',sans-serif;font-weight:700;font-size:20.42px;color:#231815;transform:scaleX(1.1826);">点</div><div class="t" style="left:831.71px;top:2235.20px;font-family:'Liberation Sans',sans-serif;font-weight:700;font-size:41.97px;color:#e9237f;transform:scaleX(0.9079);">10.5</div><div class="t" style="left:914.07px;top:2251.07px;font-family:'Noto Sans CJK JP',sans-serif;font-weight:700;font-size:20.42px;color:#231815;transform:scaleX(1.1878);">点</div><div class="t" style="left:147.86px;top:2312.01px;font-family:'Noto Sans CJK JP',sans-serif;font-weight:500;font-size:29.89px;color:#1467b9;transform:scaleX(1.1232);">合計</div><div class="t" style="left:300.68px;top:2303.68px;font-family:'Liberation Sans',sans-serif;font-weight:700;font-size:42.11px;color:#0f1a2b;transform:scaleX(1.0016);">127.1</div><div class="t" style="left:414.48px;top:2319.47px;font-family:'Noto Sans CJK JP',sans-serif;font-weight:700;font-size:20.42px;color:#231815;transform:scaleX(1.1826);">点</div><div class="t" style="left:550.68px;top:2303.68px;font-family:'Liberation Sans',sans-serif;font-weight:700;font-size:42.11px;color:#0f1a2b;transform:scaleX(1.0016);">194.1</div><div class="t" style="left:664.48px;top:2319.47px;font-family:'Noto Sans CJK JP',sans-serif;font-weight:700;font-size:20.42px;color:#231815;transform:scaleX(1.1826);">点</div><div class="t" style="left:834.87px;top:2298.43px;font-family:'NanumGothic','Liberation Sans',sans-serif;font-weight:800;font-size:48.16px;color:#e9237f;letter-spacing:-0.03em;transform-origin:0 24.32px;transform:scaleX(0.9804) skewX(-6deg);-webkit-text-stroke:1.5px #e9237f;">67.0</div><div class="t" style="left:950.32px;top:2324.60px;font-family:'Noto Sans CJK JP',sans-serif;font-weight:700;font-size:20.00px;color:#231815;transform:scaleX(1.1277);">点</div><div class="t" style="left:103.45px;top:2398.56px;font-family:'Noto Sans CJK JP',sans-serif;font-weight:900;font-size:40.52px;color:#fff;transform:scaleX(1.0536);">周南中 2 年</div><div class="r" style="left:102.2px;top:2502.2px;width:900px;height:66.2px;background:#0068b7;"></div><div class="t" style="left:141.34px;top:2521.38px;font-family:'Noto Sans CJK JP',sans-serif;font-weight:400;font-size:29.04px;color:#fff;transform:scaleX(1.1412);">教科</div><div class="t" style="left:285.55px;top:2521.97px;font-family:'Noto Sans CJK JP',sans-serif;font-weight:400;font-size:29.15px;color:#fff;transform:scaleX(1.1695);">学校平均点</div><div class="t" style="left:507.77px;top:2520.58px;font-family:'Noto Sans CJK JP',sans-serif;font-weight:400;font-size:30.21px;color:#fff;transform:scaleX(1.1031);">サナル生平均点</div><div class="t" style="left:807.12px;top:2521.32px;font-family:'Noto Sans CJK JP',sans-serif;font-weight:400;font-size:29.79px;color:#fff;transform:scaleX(1.1277);">平均の差</div><div class="r" style="left:102.2px;top:2568.3999999999996px;width:146.4px;height:406.5px;background:#98c2e4;"></div><div class="r" style="left:248.6px;top:2568.4px;width:250px;height:406.5px;background:#fff;box-sizing:border-box;border-left:4px solid #b4b4b4;border-bottom:4px solid #b4b4b4;"></div><div class="r" style="left:498.6px;top:2568.4px;width:250px;height:406.5px;background:#fff;box-sizing:border-box;border-left:4px solid #b4b4b4;border-bottom:4px solid #b4b4b4;"></div><div class="r" style="left:748.6px;top:2568.4px;width:254px;height:406.5px;background:#fff;box-sizing:border-box;border-left:4px solid #b4b4b4;border-bottom:4px solid #b4b4b4;border-right:4px solid #b4b4b4"></div><div class="r" style="left:752.6px;top:2908.4px;width:246px;height:62.5px;background:#ffff00;"></div><div class="t" style="left:140.46px;top:2588.71px;font-family:'Noto Sans CJK JP',sans-serif;font-weight:400;font-size:29.89px;color:#1467b9;transform:scaleX(1.1232);">英語</div><div class="t" style="left:316.73px;top:2580.38px;font-family:'Liberation Sans',sans-serif;font-weight:700;font-size:42.11px;color:#0f1a2b;transform:scaleX(1.0016);">18.5</div><div class="t" style="left:407.08px;top:2596.17px;font-family:'Noto Sans CJK JP',sans-serif;font-weight:700;font-size:20.42px;color:#231815;transform:scaleX(1.1826);">点</div><div class="t" style="left:566.73px;top:2580.38px;font-family:'Liberation Sans',sans-serif;font-weight:700;font-size:42.11px;color:#0f1a2b;transform:scaleX(1.0016);">29.2</div><div class="t" style="left:657.08px;top:2596.17px;font-family:'Noto Sans CJK JP',sans-serif;font-weight:700;font-size:20.42px;color:#231815;transform:scaleX(1.1826);">点</div><div class="t" style="left:824.31px;top:2579.90px;font-family:'Liberation Sans',sans-serif;font-weight:700;font-size:41.97px;color:#e9237f;transform:scaleX(0.9079);">10.7</div><div class="t" style="left:906.67px;top:2595.77px;font-family:'Noto Sans CJK JP',sans-serif;font-weight:700;font-size:20.42px;color:#231815;transform:scaleX(1.1878);">点</div><div class="t" style="left:140.46px;top:2656.71px;font-family:'Noto Sans CJK JP',sans-serif;font-weight:400;font-size:29.89px;color:#1467b9;transform:scaleX(1.1232);">数学</div><div class="t" style="left:316.73px;top:2648.38px;font-family:'Liberation Sans',sans-serif;font-weight:700;font-size:42.11px;color:#0f1a2b;transform:scaleX(1.0016);">25.5</div><div class="t" style="left:407.08px;top:2664.17px;font-family:'Noto Sans CJK JP',sans-serif;font-weight:700;font-size:20.42px;color:#231815;transform:scaleX(1.1826);">点</div><div class="t" style="left:566.73px;top:2648.38px;font-family:'Liberation Sans',sans-serif;font-weight:700;font-size:42.11px;color:#0f1a2b;transform:scaleX(1.0016);">35.7</div><div class="t" style="left:657.08px;top:2664.17px;font-family:'Noto Sans CJK JP',sans-serif;font-weight:700;font-size:20.42px;color:#231815;transform:scaleX(1.1826);">点</div><div class="t" style="left:824.31px;top:2647.90px;font-family:'Liberation Sans',sans-serif;font-weight:700;font-size:41.97px;color:#e9237f;transform:scaleX(0.9079);">10.2</div><div class="t" style="left:906.67px;top:2663.77px;font-family:'Noto Sans CJK JP',sans-serif;font-weight:700;font-size:20.42px;color:#231815;transform:scaleX(1.1878);">点</div><div class="t" style="left:140.46px;top:2724.71px;font-family:'Noto Sans CJK JP',sans-serif;font-weight:400;font-size:29.89px;color:#1467b9;transform:scaleX(1.1232);">理科</div><div class="t" style="left:316.73px;top:2716.38px;font-family:'Liberation Sans',sans-serif;font-weight:700;font-size:42.11px;color:#0f1a2b;transform:scaleX(1.0016);">31.3</div><div class="t" style="left:407.08px;top:2732.17px;font-family:'Noto Sans CJK JP',sans-serif;font-weight:700;font-size:20.42px;color:#231815;transform:scaleX(1.1826);">点</div><div class="t" style="left:566.73px;top:2716.38px;font-family:'Liberation Sans',sans-serif;font-weight:700;font-size:42.11px;color:#0f1a2b;transform:scaleX(1.0016);">43.2</div><div class="t" style="left:657.08px;top:2732.17px;font-family:'Noto Sans CJK JP',sans-serif;font-weight:700;font-size:20.42px;color:#231815;transform:scaleX(1.1826);">点</div><div class="t" style="left:826.42px;top:2715.90px;font-family:'Liberation Sans',sans-serif;font-weight:700;font-size:41.97px;color:#e9237f;transform:scaleX(0.9079);">11.9</div><div class="t" style="left:906.67px;top:2731.77px;font-family:'Noto Sans CJK JP',sans-serif;font-weight:700;font-size:20.42px;color:#231815;transform:scaleX(1.1878);">点</div><div class="t" style="left:140.46px;top:2792.71px;font-family:'Noto Sans CJK JP',sans-serif;font-weight:400;font-size:29.89px;color:#1467b9;transform:scaleX(1.1232);">社会</div><div class="t" style="left:316.73px;top:2784.38px;font-family:'Liberation Sans',sans-serif;font-weight:700;font-size:42.11px;color:#0f1a2b;transform:scaleX(1.0016);">20.8</div><div class="t" style="left:407.08px;top:2800.17px;font-family:'Noto Sans CJK JP',sans-serif;font-weight:700;font-size:20.42px;color:#231815;transform:scaleX(1.1826);">点</div><div class="t" style="left:566.73px;top:2784.38px;font-family:'Liberation Sans',sans-serif;font-weight:700;font-size:42.11px;color:#0f1a2b;transform:scaleX(1.0016);">34.1</div><div class="t" style="left:657.08px;top:2800.17px;font-family:'Noto Sans CJK JP',sans-serif;font-weight:700;font-size:20.42px;color:#231815;transform:scaleX(1.1826);">点</div><div class="t" style="left:824.31px;top:2783.90px;font-family:'Liberation Sans',sans-serif;font-weight:700;font-size:41.97px;color:#e9237f;transform:scaleX(0.9079);">13.3</div><div class="t" style="left:906.67px;top:2799.77px;font-family:'Noto Sans CJK JP',sans-serif;font-weight:700;font-size:20.42px;color:#231815;transform:scaleX(1.1878);">点</div><div class="t" style="left:140.46px;top:2860.71px;font-family:'Noto Sans CJK JP',sans-serif;font-weight:400;font-size:29.89px;color:#1467b9;transform:scaleX(1.1232);">国語</div><div class="t" style="left:316.73px;top:2852.38px;font-family:'Liberation Sans',sans-serif;font-weight:700;font-size:42.11px;color:#0f1a2b;transform:scaleX(1.0016);">28.6</div><div class="t" style="left:407.08px;top:2868.17px;font-family:'Noto Sans CJK JP',sans-serif;font-weight:700;font-size:20.42px;color:#231815;transform:scaleX(1.1826);">点</div><div class="t" style="left:566.73px;top:2852.38px;font-family:'Liberation Sans',sans-serif;font-weight:700;font-size:42.11px;color:#0f1a2b;transform:scaleX(1.0016);">37.8</div><div class="t" style="left:657.08px;top:2868.17px;font-family:'Noto Sans CJK JP',sans-serif;font-weight:700;font-size:20.42px;color:#231815;transform:scaleX(1.1826);">点</div><div class="t" style="left:845.51px;top:2851.90px;font-family:'Liberation Sans',sans-serif;font-weight:700;font-size:41.97px;color:#e9237f;transform:scaleX(0.9079);">9.2</div><div class="t" style="left:906.67px;top:2867.77px;font-family:'Noto Sans CJK JP',sans-serif;font-weight:700;font-size:20.42px;color:#231815;transform:scaleX(1.1878);">点</div><div class="t" style="left:140.46px;top:2928.71px;font-family:'Noto Sans CJK JP',sans-serif;font-weight:400;font-size:29.89px;color:#1467b9;transform:scaleX(1.1232);">合計</div><div class="t" style="left:293.28px;top:2920.38px;font-family:'Liberation Sans',sans-serif;font-weight:700;font-size:42.11px;color:#0f1a2b;transform:scaleX(1.0016);">124.7</div><div class="t" style="left:407.08px;top:2936.17px;font-family:'Noto Sans CJK JP',sans-serif;font-weight:700;font-size:20.42px;color:#231815;transform:scaleX(1.1826);">点</div><div class="t" style="left:543.28px;top:2920.38px;font-family:'Liberation Sans',sans-serif;font-weight:700;font-size:42.11px;color:#0f1a2b;transform:scaleX(1.0016);">180.0</div><div class="t" style="left:657.08px;top:2936.17px;font-family:'Noto Sans CJK JP',sans-serif;font-weight:700;font-size:20.42px;color:#231815;transform:scaleX(1.1826);">点</div><div class="t" style="left:820.35px;top:2909.04px;font-family:'Liberation Sans',sans-serif;font-weight:700;font-size:63.10px;color:#e9237f;transform-origin:0 31.86px;transform:scaleX(0.8725) skewX(-7deg);">55.3</div><div class="t" style="left:943.02px;top:2939.79px;font-family:'Noto Sans CJK JP',sans-serif;font-weight:700;font-size:23.05px;color:#231815;transform:scaleX(0.9783);">点</div><div class="t" style="left:104.16px;top:3015.13px;font-family:'Noto Sans CJK JP',sans-serif;font-weight:900;font-size:40.94px;color:#fff;transform:scaleX(1.0317);">周南中 3 年</div><div class="r" style="left:102px;top:3118.4px;width:900px;height:66.2px;background:#0068b7;"></div><div class="t" style="left:141.14px;top:3137.58px;font-family:'Noto Sans CJK JP',sans-serif;font-weight:400;font-size:29.04px;color:#fff;transform:scaleX(1.1412);">教科</div><div class="t" style="left:285.35px;top:3138.17px;font-family:'Noto Sans CJK JP',sans-serif;font-weight:400;font-size:29.15px;color:#fff;transform:scaleX(1.1695);">学校平均点</div><div class="t" style="left:507.57px;top:3136.78px;font-family:'Noto Sans CJK JP',sans-serif;font-weight:400;font-size:30.21px;color:#fff;transform:scaleX(1.1031);">サナル生平均点</div><div class="t" style="left:806.92px;top:3137.52px;font-family:'Noto Sans CJK JP',sans-serif;font-weight:400;font-size:29.79px;color:#fff;transform:scaleX(1.1277);">平均の差</div><div class="r" style="left:102px;top:3184.6px;width:146.4px;height:406.5px;background:#98c2e4;"></div><div class="r" style="left:248.4px;top:3184.6px;width:250px;height:406.5px;background:#fff;box-sizing:border-box;border-left:4px solid #b4b4b4;border-bottom:4px solid #b4b4b4;"></div><div class="r" style="left:498.4px;top:3184.6px;width:250px;height:406.5px;background:#fff;box-sizing:border-box;border-left:4px solid #b4b4b4;border-bottom:4px solid #b4b4b4;"></div><div class="r" style="left:748.4px;top:3184.6px;width:254px;height:406.5px;background:#fff;box-sizing:border-box;border-left:4px solid #b4b4b4;border-bottom:4px solid #b4b4b4;border-right:4px solid #b4b4b4"></div><div class="r" style="left:752.4px;top:3524.6px;width:246px;height:62.5px;background:#ffff00;"></div><div class="t" style="left:140.26px;top:3204.91px;font-family:'Noto Sans CJK JP',sans-serif;font-weight:400;font-size:29.89px;color:#1467b9;transform:scaleX(1.1232);">英語</div><div class="t" style="left:316.53px;top:3196.58px;font-family:'Liberation Sans',sans-serif;font-weight:700;font-size:42.11px;color:#0f1a2b;transform:scaleX(1.0016);">28.6</div><div class="t" style="left:406.88px;top:3212.37px;font-family:'Noto Sans CJK JP',sans-serif;font-weight:700;font-size:20.42px;color:#231815;transform:scaleX(1.1826);">点</div><div class="t" style="left:566.53px;top:3196.58px;font-family:'Liberation Sans',sans-serif;font-weight:700;font-size:42.11px;color:#0f1a2b;transform:scaleX(1.0016);">41.8</div><div class="t" style="left:656.88px;top:3212.37px;font-family:'Noto Sans CJK JP',sans-serif;font-weight:700;font-size:20.42px;color:#231815;transform:scaleX(1.1826);">点</div><div class="t" style="left:824.11px;top:3196.10px;font-family:'Liberation Sans',sans-serif;font-weight:700;font-size:41.97px;color:#e9237f;transform:scaleX(0.9079);">13.2</div><div class="t" style="left:906.47px;top:3211.97px;font-family:'Noto Sans CJK JP',sans-serif;font-weight:700;font-size:20.42px;color:#231815;transform:scaleX(1.1878);">点</div><div class="t" style="left:140.26px;top:3272.91px;font-family:'Noto Sans CJK JP',sans-serif;font-weight:400;font-size:29.89px;color:#1467b9;transform:scaleX(1.1232);">数学</div><div class="t" style="left:316.53px;top:3264.58px;font-family:'Liberation Sans',sans-serif;font-weight:700;font-size:42.11px;color:#0f1a2b;transform:scaleX(1.0016);">24.1</div><div class="t" style="left:406.88px;top:3280.37px;font-family:'Noto Sans CJK JP',sans-serif;font-weight:700;font-size:20.42px;color:#231815;transform:scaleX(1.1826);">点</div><div class="t" style="left:566.53px;top:3264.58px;font-family:'Liberation Sans',sans-serif;font-weight:700;font-size:42.11px;color:#0f1a2b;transform:scaleX(1.0016);">33.5</div><div class="t" style="left:656.88px;top:3280.37px;font-family:'Noto Sans CJK JP',sans-serif;font-weight:700;font-size:20.42px;color:#231815;transform:scaleX(1.1826);">点</div><div class="t" style="left:845.31px;top:3264.10px;font-family:'Liberation Sans',sans-serif;font-weight:700;font-size:41.97px;color:#e9237f;transform:scaleX(0.9079);">9.4</div><div class="t" style="left:906.47px;top:3279.97px;font-family:'Noto Sans CJK JP',sans-serif;font-weight:700;font-size:20.42px;color:#231815;transform:scaleX(1.1878);">点</div><div class="t" style="left:140.26px;top:3340.91px;font-family:'Noto Sans CJK JP',sans-serif;font-weight:400;font-size:29.89px;color:#1467b9;transform:scaleX(1.1232);">理科</div><div class="t" style="left:316.53px;top:3332.58px;font-family:'Liberation Sans',sans-serif;font-weight:700;font-size:42.11px;color:#0f1a2b;transform:scaleX(1.0016);">32.5</div><div class="t" style="left:406.88px;top:3348.37px;font-family:'Noto Sans CJK JP',sans-serif;font-weight:700;font-size:20.42px;color:#231815;transform:scaleX(1.1826);">点</div><div class="t" style="left:566.53px;top:3332.58px;font-family:'Liberation Sans',sans-serif;font-weight:700;font-size:42.11px;color:#0f1a2b;transform:scaleX(1.0016);">41.4</div><div class="t" style="left:656.88px;top:3348.37px;font-family:'Noto Sans CJK JP',sans-serif;font-weight:700;font-size:20.42px;color:#231815;transform:scaleX(1.1826);">点</div><div class="t" style="left:845.31px;top:3332.10px;font-family:'Liberation Sans',sans-serif;font-weight:700;font-size:41.97px;color:#e9237f;transform:scaleX(0.9079);">8.9</div><div class="t" style="left:906.47px;top:3347.97px;font-family:'Noto Sans CJK JP',sans-serif;font-weight:700;font-size:20.42px;color:#231815;transform:scaleX(1.1878);">点</div><div class="t" style="left:140.26px;top:3408.91px;font-family:'Noto Sans CJK JP',sans-serif;font-weight:400;font-size:29.89px;color:#1467b9;transform:scaleX(1.1232);">社会</div><div class="t" style="left:316.53px;top:3400.58px;font-family:'Liberation Sans',sans-serif;font-weight:700;font-size:42.11px;color:#0f1a2b;transform:scaleX(1.0016);">29.8</div><div class="t" style="left:406.88px;top:3416.37px;font-family:'Noto Sans CJK JP',sans-serif;font-weight:700;font-size:20.42px;color:#231815;transform:scaleX(1.1826);">点</div><div class="t" style="left:566.53px;top:3400.58px;font-family:'Liberation Sans',sans-serif;font-weight:700;font-size:42.11px;color:#0f1a2b;transform:scaleX(1.0016);">41.0</div><div class="t" style="left:656.88px;top:3416.37px;font-family:'Noto Sans CJK JP',sans-serif;font-weight:700;font-size:20.42px;color:#231815;transform:scaleX(1.1826);">点</div><div class="t" style="left:826.22px;top:3400.10px;font-family:'Liberation Sans',sans-serif;font-weight:700;font-size:41.97px;color:#e9237f;transform:scaleX(0.9079);">11.2</div><div class="t" style="left:906.47px;top:3415.97px;font-family:'Noto Sans CJK JP',sans-serif;font-weight:700;font-size:20.42px;color:#231815;transform:scaleX(1.1878);">点</div><div class="t" style="left:140.26px;top:3476.91px;font-family:'Noto Sans CJK JP',sans-serif;font-weight:400;font-size:29.89px;color:#1467b9;transform:scaleX(1.1232);">国語</div><div class="t" style="left:316.53px;top:3468.58px;font-family:'Liberation Sans',sans-serif;font-weight:700;font-size:42.11px;color:#0f1a2b;transform:scaleX(1.0016);">29.7</div><div class="t" style="left:406.88px;top:3484.37px;font-family:'Noto Sans CJK JP',sans-serif;font-weight:700;font-size:20.42px;color:#231815;transform:scaleX(1.1826);">点</div><div class="t" style="left:566.53px;top:3468.58px;font-family:'Liberation Sans',sans-serif;font-weight:700;font-size:42.11px;color:#0f1a2b;transform:scaleX(1.0016);">40.6</div><div class="t" style="left:656.88px;top:3484.37px;font-family:'Noto Sans CJK JP',sans-serif;font-weight:700;font-size:20.42px;color:#231815;transform:scaleX(1.1826);">点</div><div class="t" style="left:824.11px;top:3468.10px;font-family:'Liberation Sans',sans-serif;font-weight:700;font-size:41.97px;color:#e9237f;transform:scaleX(0.9079);">10.9</div><div class="t" style="left:906.47px;top:3483.97px;font-family:'Noto Sans CJK JP',sans-serif;font-weight:700;font-size:20.42px;color:#231815;transform:scaleX(1.1878);">点</div><div class="t" style="left:140.26px;top:3544.91px;font-family:'Noto Sans CJK JP',sans-serif;font-weight:400;font-size:29.89px;color:#1467b9;transform:scaleX(1.1232);">合計</div><div class="t" style="left:293.08px;top:3536.58px;font-family:'Liberation Sans',sans-serif;font-weight:700;font-size:42.11px;color:#0f1a2b;transform:scaleX(1.0016);">144.7</div><div class="t" style="left:406.88px;top:3552.37px;font-family:'Noto Sans CJK JP',sans-serif;font-weight:700;font-size:20.42px;color:#231815;transform:scaleX(1.1826);">点</div><div class="t" style="left:543.08px;top:3536.58px;font-family:'Liberation Sans',sans-serif;font-weight:700;font-size:42.11px;color:#0f1a2b;transform:scaleX(1.0016);">198.3</div><div class="t" style="left:656.88px;top:3552.37px;font-family:'Noto Sans CJK JP',sans-serif;font-weight:700;font-size:20.42px;color:#231815;transform:scaleX(1.1826);">点</div><div class="t" style="left:820.36px;top:3526.07px;font-family:'Liberation Sans',sans-serif;font-weight:700;font-size:61.55px;color:#e9237f;transform-origin:0 31.08px;transform:scaleX(0.8884) skewX(-7deg);">53.6</div><div class="t" style="left:943.04px;top:3558.39px;font-family:'Noto Sans CJK JP',sans-serif;font-weight:700;font-size:20.21px;color:#231815;transform:scaleX(1.0949);">点</div><div class="t" style="left:288.40px;top:3620.33px;font-family:'Noto Sans CJK JP',sans-serif;font-weight:400;font-size:25.85px;color:#222;transform:scaleX(0.9403);">※近隣校舎のサナル生も含まれます<span style="letter-spacing:-0.3em">。</span>※佐鳴予備校調べ／12月7日判明分</div>
<svg class="r" style="left:0;top:0;z-index:1" width="1100" height="3669"><polygon fill="#42a7f2" points="662.0,20.6 734.0,20.6 734.0,92.6 707.0,115.6 707.0,75.6 623.0,159.0 568.0,159.0 678.0,46.6 639.0,46.6"/><polygon fill="#0068b7" points="714.0,44.6 786.0,44.6 786.0,116.6 759.0,139.6 759.0,99.6 675.0,183.0 620.0,183.0 730.0,70.6 691.0,70.6"/><polygon fill="#42a7f2" points="947.0,1142.3 1019.0,1142.3 1019.0,1214.3 992.0,1237.3 992.0,1197.3 908.0,1279.7 853.0,1279.7 963.0,1168.3 924.0,1168.3"/><polygon fill="#0068b7" points="999.0,1166.3 1071.0,1166.3 1071.0,1238.3 1044.0,1261.3 1044.0,1221.3 960.0,1303.7 905.0,1303.7 1015.0,1192.3 976.0,1192.3"/></svg><svg class="r" style="left:0;top:0;z-index:1" width="1100" height="3669"><rect x="29.1" y="289.8" width="154.7" height="45.4" rx="22.7" fill="#42a7f2"/><polygon fill="#42a7f2" points="89.2,334.9 97.2,334.9 103.2,347.4"/><rect x="25.2" y="285.4" width="154.7" height="45.4" rx="22.7" fill="#0068b7"/><polygon fill="#0068b7" points="84.7,330.8 94.2,330.8 101.9,346.4"/><rect x="399.1" y="289.0" width="154.7" height="45.4" rx="22.7" fill="#42a7f2"/><polygon fill="#42a7f2" points="459.2,334.1 467.2,334.1 473.2,346.6"/><rect x="395.2" y="284.6" width="154.7" height="45.4" rx="22.7" fill="#0068b7"/><polygon fill="#0068b7" points="454.7,330.0 464.2,330.0 471.9,345.6"/><rect x="755.1" y="289.8" width="154.7" height="45.4" rx="22.7" fill="#42a7f2"/><polygon fill="#42a7f2" points="815.2,334.9 823.2,334.9 829.2,347.4"/><rect x="751.2" y="285.4" width="154.7" height="45.4" rx="22.7" fill="#0068b7"/><polygon fill="#0068b7" points="810.7,330.8 820.2,330.8 827.9,346.4"/><rect x="29.1" y="519.8" width="154.7" height="45.4" rx="22.7" fill="#42a7f2"/><polygon fill="#42a7f2" points="89.2,564.9 97.2,564.9 103.2,577.4"/><rect x="25.2" y="515.4" width="154.7" height="45.4" rx="22.7" fill="#0068b7"/><polygon fill="#0068b7" points="84.7,560.8 94.2,560.8 101.9,576.4"/><rect x="392.1" y="519.8" width="154.7" height="45.4" rx="22.7" fill="#42a7f2"/><polygon fill="#42a7f2" points="452.2,564.9 460.2,564.9 466.2,577.4"/><rect x="388.2" y="515.4" width="154.7" height="45.4" rx="22.7" fill="#0068b7"/><polygon fill="#0068b7" points="447.7,560.8 457.2,560.8 464.9,576.4"/><rect x="758.3" y="522.9" width="154.7" height="45.4" rx="22.7" fill="#42a7f2"/><polygon fill="#42a7f2" points="818.4,568.0 826.4,568.0 832.4,580.5"/><rect x="754.4" y="518.5" width="154.7" height="45.4" rx="22.7" fill="#0068b7"/><polygon fill="#0068b7" points="813.9,563.9 823.4,563.9 831.1,579.5"/><rect x="29.9" y="747.7" width="154.7" height="45.4" rx="22.7" fill="#42a7f2"/><polygon fill="#42a7f2" points="90.0,792.8 98.0,792.8 104.0,805.3"/><rect x="26.0" y="743.3" width="154.7" height="45.4" rx="22.7" fill="#0068b7"/><polygon fill="#0068b7" points="85.5,788.7 95.0,788.7 102.7,804.3"/><rect x="390.9" y="753.6" width="154.7" height="45.4" rx="22.7" fill="#42a7f2"/><polygon fill="#42a7f2" points="451.0,798.7 459.0,798.7 465.0,811.2"/><rect x="387.0" y="749.2" width="154.7" height="45.4" rx="22.7" fill="#0068b7"/><polygon fill="#0068b7" points="446.5,794.6 456.0,794.6 463.7,810.2"/><rect x="755.1" y="749.8" width="154.7" height="45.4" rx="22.7" fill="#42a7f2"/><polygon fill="#42a7f2" points="815.2,794.9 823.2,794.9 829.2,807.4"/><rect x="751.2" y="745.4" width="154.7" height="45.4" rx="22.7" fill="#0068b7"/><polygon fill="#0068b7" points="810.7,790.8 820.2,790.8 827.9,806.4"/><rect x="27.3" y="982.9" width="154.7" height="45.4" rx="22.7" fill="#42a7f2"/><polygon fill="#42a7f2" points="87.4,1028.0 95.4,1028.0 101.4,1040.5"/><rect x="23.4" y="978.5" width="154.7" height="45.4" rx="22.7" fill="#0068b7"/><polygon fill="#0068b7" points="82.9,1023.9 92.4,1023.9 100.1,1039.5"/><rect x="392.1" y="979.8" width="154.7" height="45.4" rx="22.7" fill="#42a7f2"/><polygon fill="#42a7f2" points="452.2,1024.9 460.2,1024.9 466.2,1037.4"/><rect x="388.2" y="975.4" width="154.7" height="45.4" rx="22.7" fill="#0068b7"/><polygon fill="#0068b7" points="447.7,1020.8 457.2,1020.8 464.9,1036.4"/><rect x="42.0" y="1361.3" width="366.8" height="77.3" rx="38.65" fill="#42a7f2"/><polygon fill="#42a7f2" points="142.3,1430.6 158.3,1430.6 163.6,1458.5"/><rect x="35.2" y="1354.3" width="366.8" height="77.3" rx="38.65" fill="#0068b7"/><polygon fill="#0068b7" points="135.5,1430.6 151.5,1430.6 157.4,1451.9"/><rect x="35.0" y="2390.9" width="366.8" height="77.7" rx="38.85" fill="#42a7f2"/><polygon fill="#42a7f2" points="135.3,2460.6 151.3,2460.6 156.6,2488.1"/><rect x="28.2" y="2383.9" width="366.8" height="77.7" rx="38.85" fill="#0068b7"/><polygon fill="#0068b7" points="128.5,2460.6 144.5,2460.6 150.4,2481.5"/><rect x="35.0" y="3007.5" width="366.8" height="78.1" rx="39.05" fill="#42a7f2"/><polygon fill="#42a7f2" points="135.3,3077.6 151.3,3077.6 156.6,3104.7"/><rect x="28.2" y="3000.5" width="366.8" height="78.1" rx="39.05" fill="#0068b7"/><polygon fill="#0068b7" points="128.5,3077.6 144.5,3077.6 150.4,3098.1"/></svg><svg class="r" style="left:0;top:0;z-index:3" width="1100" height="3669"><path d="M341.30,298.25 C341.30,311.72 345.20,315.30 359.86,315.30 C345.20,315.30 341.30,318.88 341.30,332.35 C341.30,318.88 337.40,315.30 322.74,315.30 C337.40,315.30 341.30,311.72 341.30,298.25 Z" fill="#f9c30a"/><path d="M329.30,324.72 C329.30,341.22 334.05,345.60 351.92,345.60 C334.05,345.60 329.30,349.98 329.30,366.48 C329.30,349.98 324.55,345.60 306.68,345.60 C324.55,345.60 329.30,341.22 329.30,324.72 Z" fill="#f9c30a"/><path d="M704.30,298.25 C704.30,311.72 708.20,315.30 722.86,315.30 C708.20,315.30 704.30,318.88 704.30,332.35 C704.30,318.88 700.40,315.30 685.74,315.30 C700.40,315.30 704.30,311.72 704.30,298.25 Z" fill="#f9c30a"/><path d="M692.30,324.72 C692.30,341.22 697.05,345.60 714.92,345.60 C697.05,345.60 692.30,349.98 692.30,366.48 C692.30,349.98 687.55,345.60 669.68,345.60 C687.55,345.60 692.30,341.22 692.30,324.72 Z" fill="#f9c30a"/><path d="M1067.30,298.25 C1067.30,311.72 1071.20,315.30 1085.86,315.30 C1071.20,315.30 1067.30,318.88 1067.30,332.35 C1067.30,318.88 1063.40,315.30 1048.74,315.30 C1063.40,315.30 1067.30,311.72 1067.30,298.25 Z" fill="#f9c30a"/><path d="M1055.30,324.72 C1055.30,341.22 1060.05,345.60 1077.92,345.60 C1060.05,345.60 1055.30,349.98 1055.30,366.48 C1055.30,349.98 1050.55,345.60 1032.68,345.60 C1050.55,345.60 1055.30,341.22 1055.30,324.72 Z" fill="#f9c30a"/><path d="M341.30,528.25 C341.30,541.72 345.20,545.30 359.86,545.30 C345.20,545.30 341.30,548.88 341.30,562.35 C341.30,548.88 337.40,545.30 322.74,545.30 C337.40,545.30 341.30,541.72 341.30,528.25 Z" fill="#f9c30a"/><path d="M329.30,554.72 C329.30,571.22 334.05,575.60 351.92,575.60 C334.05,575.60 329.30,579.98 329.30,596.48 C329.30,579.98 324.55,575.60 306.68,575.60 C324.55,575.60 329.30,571.22 329.30,554.72 Z" fill="#f9c30a"/><path d="M704.30,528.25 C704.30,541.72 708.20,545.30 722.86,545.30 C708.20,545.30 704.30,548.88 704.30,562.35 C704.30,548.88 700.40,545.30 685.74,545.30 C700.40,545.30 704.30,541.72 704.30,528.25 Z" fill="#f9c30a"/><path d="M692.30,554.72 C692.30,571.22 697.05,575.60 714.92,575.60 C697.05,575.60 692.30,579.98 692.30,596.48 C692.30,579.98 687.55,575.60 669.68,575.60 C687.55,575.60 692.30,571.22 692.30,554.72 Z" fill="#f9c30a"/><path d="M1067.30,528.25 C1067.30,541.72 1071.20,545.30 1085.86,545.30 C1071.20,545.30 1067.30,548.88 1067.30,562.35 C1067.30,548.88 1063.40,545.30 1048.74,545.30 C1063.40,545.30 1067.30,541.72 1067.30,528.25 Z" fill="#f9c30a"/><path d="M1055.30,554.72 C1055.30,571.22 1060.05,575.60 1077.92,575.60 C1060.05,575.60 1055.30,579.98 1055.30,596.48 C1055.30,579.98 1050.55,575.60 1032.68,575.60 C1050.55,575.60 1055.30,571.22 1055.30,554.72 Z" fill="#f9c30a"/><path d="M939.40,586.85 C939.40,604.03 944.21,608.60 962.31,608.60 C944.21,608.60 939.40,613.17 939.40,630.35 C939.40,613.17 934.59,608.60 916.49,608.60 C934.59,608.60 939.40,604.03 939.40,586.85 Z" fill="#f9c30a"/><path d="M927.40,622.22 C927.40,635.87 931.18,639.50 945.38,639.50 C931.18,639.50 927.40,643.13 927.40,656.78 C927.40,643.13 923.62,639.50 909.42,639.50 C923.62,639.50 927.40,635.87 927.40,622.22 Z" fill="#f9c30a"/><path d="M341.30,758.25 C341.30,771.72 345.20,775.30 359.86,775.30 C345.20,775.30 341.30,778.88 341.30,792.35 C341.30,778.88 337.40,775.30 322.74,775.30 C337.40,775.30 341.30,771.72 341.30,758.25 Z" fill="#f9c30a"/><path d="M329.30,784.72 C329.30,801.22 334.05,805.60 351.92,805.60 C334.05,805.60 329.30,809.98 329.30,826.48 C329.30,809.98 324.55,805.60 306.68,805.60 C324.55,805.60 329.30,801.22 329.30,784.72 Z" fill="#f9c30a"/><path d="M704.30,758.25 C704.30,771.72 708.20,775.30 722.86,775.30 C708.20,775.30 704.30,778.88 704.30,792.35 C704.30,778.88 700.40,775.30 685.74,775.30 C700.40,775.30 704.30,771.72 704.30,758.25 Z" fill="#f9c30a"/><path d="M692.30,784.72 C692.30,801.22 697.05,805.60 714.92,805.60 C697.05,805.60 692.30,809.98 692.30,826.48 C692.30,809.98 687.55,805.60 669.68,805.60 C687.55,805.60 692.30,801.22 692.30,784.72 Z" fill="#f9c30a"/><path d="M584.30,799.95 C584.30,817.13 589.11,821.70 607.21,821.70 C589.11,821.70 584.30,826.27 584.30,843.45 C584.30,826.27 579.49,821.70 561.39,821.70 C579.49,821.70 584.30,817.13 584.30,799.95 Z" fill="#f9c30a"/><path d="M572.40,835.32 C572.40,848.97 576.18,852.60 590.38,852.60 C576.18,852.60 572.40,856.23 572.40,869.88 C572.40,856.23 568.62,852.60 554.42,852.60 C568.62,852.60 572.40,848.97 572.40,835.32 Z" fill="#f9c30a"/><path d="M1067.30,758.25 C1067.30,771.72 1071.20,775.30 1085.86,775.30 C1071.20,775.30 1067.30,778.88 1067.30,792.35 C1067.30,778.88 1063.40,775.30 1048.74,775.30 C1063.40,775.30 1067.30,771.72 1067.30,758.25 Z" fill="#f9c30a"/><path d="M1055.30,784.72 C1055.30,801.22 1060.05,805.60 1077.92,805.60 C1060.05,805.60 1055.30,809.98 1055.30,826.48 C1055.30,809.98 1050.55,805.60 1032.68,805.60 C1050.55,805.60 1055.30,801.22 1055.30,784.72 Z" fill="#f9c30a"/><path d="M341.30,988.25 C341.30,1001.72 345.20,1005.30 359.86,1005.30 C345.20,1005.30 341.30,1008.88 341.30,1022.35 C341.30,1008.88 337.40,1005.30 322.74,1005.30 C337.40,1005.30 341.30,1001.72 341.30,988.25 Z" fill="#f9c30a"/><path d="M329.30,1014.72 C329.30,1031.22 334.05,1035.60 351.92,1035.60 C334.05,1035.60 329.30,1039.98 329.30,1056.48 C329.30,1039.98 324.55,1035.60 306.68,1035.60 C324.55,1035.60 329.30,1031.22 329.30,1014.72 Z" fill="#f9c30a"/><path d="M211.40,1042.05 C211.40,1059.23 216.21,1063.80 234.31,1063.80 C216.21,1063.80 211.40,1068.37 211.40,1085.55 C211.40,1068.37 206.59,1063.80 188.49,1063.80 C206.59,1063.80 211.40,1059.23 211.40,1042.05 Z" fill="#f9c30a"/><path d="M199.40,1077.12 C199.40,1090.77 203.18,1094.40 217.38,1094.40 C203.18,1094.40 199.40,1098.03 199.40,1111.68 C199.40,1098.03 195.62,1094.40 181.42,1094.40 C195.62,1094.40 199.40,1090.77 199.40,1077.12 Z" fill="#f9c30a"/><path d="M704.30,988.25 C704.30,1001.72 708.20,1005.30 722.86,1005.30 C708.20,1005.30 704.30,1008.88 704.30,1022.35 C704.30,1008.88 700.40,1005.30 685.74,1005.30 C700.40,1005.30 704.30,1001.72 704.30,988.25 Z" fill="#f9c30a"/><path d="M692.30,1014.72 C692.30,1031.22 697.05,1035.60 714.92,1035.60 C697.05,1035.60 692.30,1039.98 692.30,1056.48 C692.30,1039.98 687.55,1035.60 669.68,1035.60 C687.55,1035.60 692.30,1031.22 692.30,1014.72 Z" fill="#f9c30a"/><path d="M830.40,1043.05 C830.40,1063.95 836.22,1069.50 858.12,1069.50 C836.22,1069.50 830.40,1075.05 830.40,1095.95 C830.40,1075.05 824.58,1069.50 802.68,1069.50 C824.58,1069.50 830.40,1063.95 830.40,1043.05 Z" fill="#f9c30a"/><path d="M869.80,1062.54 C869.80,1088.66 877.08,1095.60 904.48,1095.60 C877.08,1095.60 869.80,1102.54 869.80,1128.66 C869.80,1102.54 862.52,1095.60 835.12,1095.60 C862.52,1095.60 869.80,1088.66 869.80,1062.54 Z" fill="#f9c30a"/><path d="M1001.50,1351.64 C1001.50,1375.47 1008.81,1381.80 1036.30,1381.80 C1008.81,1381.80 1001.50,1388.13 1001.50,1411.96 C1001.50,1388.13 994.19,1381.80 966.70,1381.80 C994.19,1381.80 1001.50,1375.47 1001.50,1351.64 Z" fill="#f9c30a"/><path d="M1049.70,1376.64 C1049.70,1407.34 1058.53,1415.50 1091.75,1415.50 C1058.53,1415.50 1049.70,1423.66 1049.70,1454.36 C1049.70,1423.66 1040.87,1415.50 1007.65,1415.50 C1040.87,1415.50 1049.70,1407.34 1049.70,1376.64 Z" fill="#f9c30a"/></svg><svg class="r" style="left:0;top:0;z-index:3" width="1100" height="3669"><path d="M1004,1056 L984,1072 L952,1090 Q945,1093 942,1086 L934,1050" fill="none" stroke="#111" stroke-width="17" stroke-linecap="round" stroke-linejoin="round"/><path d="M1004,1056 L984,1072 L952,1090 Q945,1093 942,1086 L934,1050" fill="none" stroke="#4d5e8e" stroke-width="13" stroke-linecap="round" stroke-linejoin="round"/><path d="M1000,1062 L982,1076 L954,1092" fill="none" stroke="#fff" stroke-width="1.6"/><path d="M1003,1049 L1030,1046 Q1046,1052 1050,1068 L1057,1128 L986,1128 Q990,1090 1003,1049 Z" fill="#4d5e8e" stroke="#111" stroke-width="2.6" stroke-linejoin="round"/><path d="M1030,1047 Q1042,1080 1044,1128" fill="none" stroke="#fff" stroke-width="1.6"/><path d="M1032,1047 Q1045,1080 1047,1128" fill="none" stroke="#111" stroke-width="1.4"/><path d="M1004,1051 L1026,1050 L1010,1086 Z" fill="#fff" stroke="#111" stroke-width="1.6" stroke-linejoin="round"/><path d="M1012,1036 L1012,1050 L1024,1050 L1024,1036 Z" fill="#fff" stroke="#111" stroke-width="1.8"/><path d="M1014,1057 L1003,1051 L1004,1064 Z M1014,1057 L1026,1050 L1025,1064 Z" fill="#e8823a" stroke="#111" stroke-width="1.4" stroke-linejoin="round"/><path d="M1014,1057 L1009,1068 M1015,1057 L1021,1068" stroke="#e8823a" stroke-width="4"/><circle cx="1014.5" cy="1057" r="3" fill="#e8823a" stroke="#111" stroke-width="1.2"/><circle cx="1003.6" cy="1104" r="2.6" fill="#e0b040" stroke="#111" stroke-width="0.8"/><rect x="934" y="1008" width="8" height="30" rx="4" fill="#fff" stroke="#111" stroke-width="2.6"/><path d="M925,1040 Q922,1031 932,1030 L945,1029 Q951,1031 948,1037 Q952,1043 944,1048 Q936,1053 929,1048 Q922,1046 925,1040 Z" fill="#fff" stroke="#111" stroke-width="2.6" stroke-linejoin="round"/><path d="M934,1036 Q940,1034 946,1037 M933,1042 Q939,1040 945,1043" fill="none" stroke="#111" stroke-width="1.4"/><path d="M1025.7,936.6 Q1000,937 985,948 Q968,962 964,985 Q962,1005 961,1015 Q957,1019 951,1021 Q960,1030 975,1033 L1060,1036 Q1074,1030 1077,1010 Q1080,985 1072,962 Q1060,940 1025.7,936.6 Z" fill="#fff" stroke="#111" stroke-width="2.6" stroke-linejoin="round"/><path d="M1025.7,936.6 Q1000,937 985,948 Q968,962 964,985 Q962,1005 961,1015 Q957,1019 951,1021 Q960,1030 975,1033 L1060,1036 Q1074,1030 1077,1010 Q1080,985 1072,962 Q1060,940 1025.7,936.6 Z" fill="#8e6140" transform="translate(1015 988) scale(0.955 0.95) translate(-1015 -985)"/><path d="M975,960 Q990,942 1022,939 Q1000,944 990,952 Q982,958 976,966 Z" fill="#fff"/><path d="M971.8,982.9 Q969,1000 972,1018 Q978,1032 992,1035 Q1005,1039 1015,1038 Q1030,1037 1044,1028 Q1054,1018 1055.4,1003 Q1056,992 1052,983 Q1040,975 1025.7,973 Q1000,976 971.8,982.9 Z" fill="#fff" stroke="#111" stroke-width="2.6" stroke-linejoin="round"/><path d="M966,985 Q970,960 990,948 Q1010,939 1040,944 Q1052,950 1048,965 Q1030,975 1000,978 Q985,980 972.9,984 Z" fill="#8e6140" stroke="#111" stroke-width="2.6" stroke-linejoin="round"/><path d="M968,978 Q972,958 990,946 Q1008,938 1030,940 Q1005,942 992,950 Q976,960 972,978 Z" fill="#fff"/><path d="M970,972 Q975,955 990,948 Q978,958 974,972 Z" fill="#fff"/><path d="M972,958 Q1000,950 1020,938 M970,970 Q1005,965 1038,942 M985,978 Q1020,972 1043,953" fill="none" stroke="#111" stroke-width="2.4" stroke-linecap="round"/><path d="M1045,960 Q1055,985 1058,1000 M1050,953 Q1068,975 1068,1000 Q1068,1020 1058,1033" fill="none" stroke="#111" stroke-width="1.8" stroke-linecap="round"/><path d="M1056,995 Q1066,994 1066,1001 Q1066,1008 1056,1008" fill="#fff" stroke="#111" stroke-width="1.8"/><circle cx="987.2" cy="999.4" r="3.6" fill="#111"/><path d="M998.2,1000.5 L992.7,1006 L999.3,1010.4" fill="none" stroke="#111" stroke-width="2" stroke-linecap="round" stroke-linejoin="round"/><path d="M1030,995 L1019,1000.5 L1029,1004" fill="none" stroke="#111" stroke-width="2" stroke-linecap="round" stroke-linejoin="round"/><path d="M1028,980 Q1034,976 1037,982" fill="none" stroke="#111" stroke-width="1.6" stroke-linecap="round"/><path d="M990.5,1014.8 Q1007,1015 1023.5,1013.7 Q1022,1031 1008,1031.3 Q993,1030 990.5,1014.8 Z" fill="#fff" stroke="#111" stroke-width="2.2" stroke-linejoin="round"/><text font-family="Noto Sans CJK JP, sans-serif" font-weight="900" paint-order="stroke" stroke="#0068b7" stroke-width="11" stroke-linejoin="round" fill="#ffff00" x="757" y="965" font-size="37" transform="rotate(-3.5 757 965)">さなる生</text><text font-family="Noto Sans CJK JP, sans-serif" font-weight="900" paint-order="stroke" stroke="#0068b7" stroke-width="11" stroke-linejoin="round" fill="#ffff00" x="791" y="1006.5" font-size="37" transform="rotate(-3.5 791 1006.5)">大活躍!!</text></svg>
</div></body></html>
